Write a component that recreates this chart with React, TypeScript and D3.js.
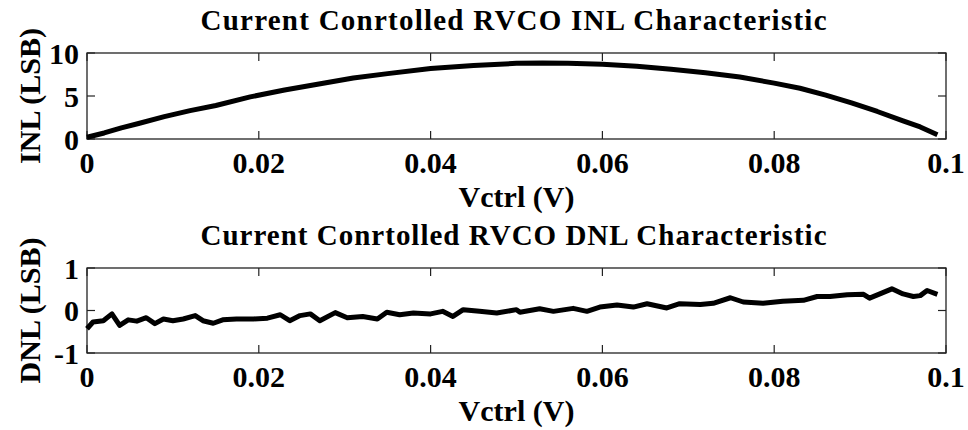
import * as d3 from "d3";

const WIDTH = 968;
const HEIGHT = 430;
const FONT = '"Liberation Serif", "Times New Roman", Times, "DejaVu Serif", serif';

// x axis (Vctrl in volts)
const xTicks = [0, 0.02, 0.04, 0.06, 0.08, 0.1];
const xTickLabels = ["0", "0.02", "0.04", "0.06", "0.08", "0.1"];

// INL panel
const inlTicks = [0, 5, 10];
const inlVctrl = [0, 0.002, 0.004, 0.006, 0.009, 0.012, 0.015, 0.019, 0.023, 0.027, 0.031, 0.035, 0.04, 0.045, 0.05, 0.053, 0.056, 0.06, 0.064, 0.068, 0.072, 0.076, 0.08, 0.083, 0.086, 0.089, 0.092, 0.095, 0.097, 0.099];
const inlLsb = [0.2, 0.7, 1.3, 1.8, 2.6, 3.3, 3.9, 4.9, 5.7, 6.4, 7.1, 7.6, 8.2, 8.55, 8.8, 8.85, 8.8, 8.7, 8.45, 8.1, 7.7, 7.2, 6.5, 5.9, 5.1, 4.2, 3.2, 2.1, 1.4, 0.5];

// DNL panel
const dnlTicks = [-1, 0, 1];
const dnlVctrl = [0, 0.0007, 0.0019, 0.0029, 0.0038, 0.0048, 0.0058, 0.0069, 0.0079, 0.0089, 0.01, 0.0112, 0.0126, 0.0135, 0.0147, 0.0158, 0.0174, 0.0194, 0.021, 0.0225, 0.0236, 0.0248, 0.026, 0.0271, 0.0289, 0.0303, 0.0321, 0.0338, 0.0349, 0.0364, 0.038, 0.04, 0.0414, 0.0426, 0.0438, 0.0457, 0.0477, 0.05, 0.0504, 0.0527, 0.0543, 0.0566, 0.0582, 0.0597, 0.0617, 0.0636, 0.0652, 0.0675, 0.069, 0.0714, 0.0729, 0.0749, 0.0764, 0.0787, 0.081, 0.0834, 0.085, 0.0865, 0.0885, 0.0904, 0.0911, 0.0923, 0.0937, 0.095, 0.0962, 0.097, 0.0978, 0.099];
const dnlLsb = [-0.43, -0.27, -0.24, -0.08, -0.35, -0.22, -0.25, -0.17, -0.31, -0.2, -0.24, -0.2, -0.12, -0.24, -0.3, -0.22, -0.2, -0.2, -0.18, -0.1, -0.24, -0.12, -0.08, -0.24, -0.05, -0.17, -0.14, -0.2, -0.04, -0.1, -0.06, -0.08, -0.02, -0.14, 0.02, -0.02, -0.06, 0.02, -0.04, 0.04, -0.02, 0.05, -0.02, 0.08, 0.13, 0.08, 0.16, 0.06, 0.16, 0.14, 0.17, 0.3, 0.2, 0.17, 0.22, 0.24, 0.33, 0.33, 0.37, 0.38, 0.29, 0.39, 0.51, 0.39, 0.33, 0.35, 0.47, 0.38];

const LEFT = 87;
const RIGHT = 946;
const TICK = 8;

type PanelProps = {
  top: number;
  bottom: number;
  domain: [number, number];
  yTicks: number[];
  xs: number[];
  ys: number[];
  title: string;
  ylabel: string;
};

function Panel({ top, bottom, domain, yTicks, xs, ys, title, ylabel }: PanelProps) {
  const x = d3.scaleLinear().domain([0, 0.1]).range([LEFT, RIGHT]);
  const y = d3.scaleLinear().domain(domain).range([bottom, top]);
  const line = d3
    .line<number>()
    .x((d) => x(d))
    .y((_, i) => y(ys[i]));
  const mid = (top + bottom) / 2;

  return (
    <g style={{ fontFamily: FONT, fontWeight: "bold" }} fill="#000">
      <text x={(LEFT + RIGHT) / 2 - 3} y={top - 23} textAnchor="middle" fontSize={29} textLength={626} lengthAdjust="spacing">
        {title}
      </text>
      <rect x={LEFT} y={top} width={RIGHT - LEFT} height={bottom - top} fill="#fff" stroke="#222" strokeWidth={1.3} />
      {xTicks.map((t, i) => (
        <g key={"x" + i}>
          <line x1={x(t)} x2={x(t)} y1={bottom} y2={bottom - TICK} stroke="#222" strokeWidth={1.2} />
          <line x1={x(t)} x2={x(t)} y1={top} y2={top + TICK} stroke="#222" strokeWidth={1.2} />
          <text x={x(t)} y={bottom + 34} textAnchor="middle" fontSize={30}>
            {xTickLabels[i]}
          </text>
        </g>
      ))}
      {yTicks.map((t) => (
        <g key={"y" + t}>
          <line x1={LEFT} x2={LEFT + TICK} y1={y(t)} y2={y(t)} stroke="#222" strokeWidth={1.2} />
          <line x1={RIGHT} x2={RIGHT - TICK} y1={y(t)} y2={y(t)} stroke="#222" strokeWidth={1.2} />
          <text x={LEFT - 8} y={y(t)} dy="0.35em" textAnchor="end" fontSize={30}>
            {t}
          </text>
        </g>
      ))}
      <path d={line(xs) ?? ""} fill="none" stroke="#000" strokeWidth={5} strokeLinejoin="round" />
      <text x={(LEFT + RIGHT) / 2} y={bottom + 68} textAnchor="middle" fontSize={30}>
        Vctrl (V)
      </text>
      <text transform={`translate(40, ${mid}) rotate(-90)`} textAnchor="middle" fontSize={30}>
        {ylabel}
      </text>
    </g>
  );
}

export default function App() {
  return (
    <svg width={WIDTH} height={HEIGHT} style={{ position: "absolute", left: 0, top: 0, background: "#fff" }}>
      <rect width={WIDTH} height={HEIGHT} fill="#fff" />
      <Panel
        top={53}
        bottom={139}
        domain={[0, 10]}
        yTicks={inlTicks}
        xs={inlVctrl}
        ys={inlLsb}
        title="Current Conrtolled RVCO INL Characteristic"
        ylabel="INL (LSB)"
      />
      <Panel
        top={268}
        bottom={353}
        domain={[-1, 1]}
        yTicks={dnlTicks}
        xs={dnlVctrl}
        ys={dnlLsb}
        title="Current Conrtolled RVCO DNL Characteristic"
        ylabel="DNL (LSB)"
      />
    </svg>
  );
}
